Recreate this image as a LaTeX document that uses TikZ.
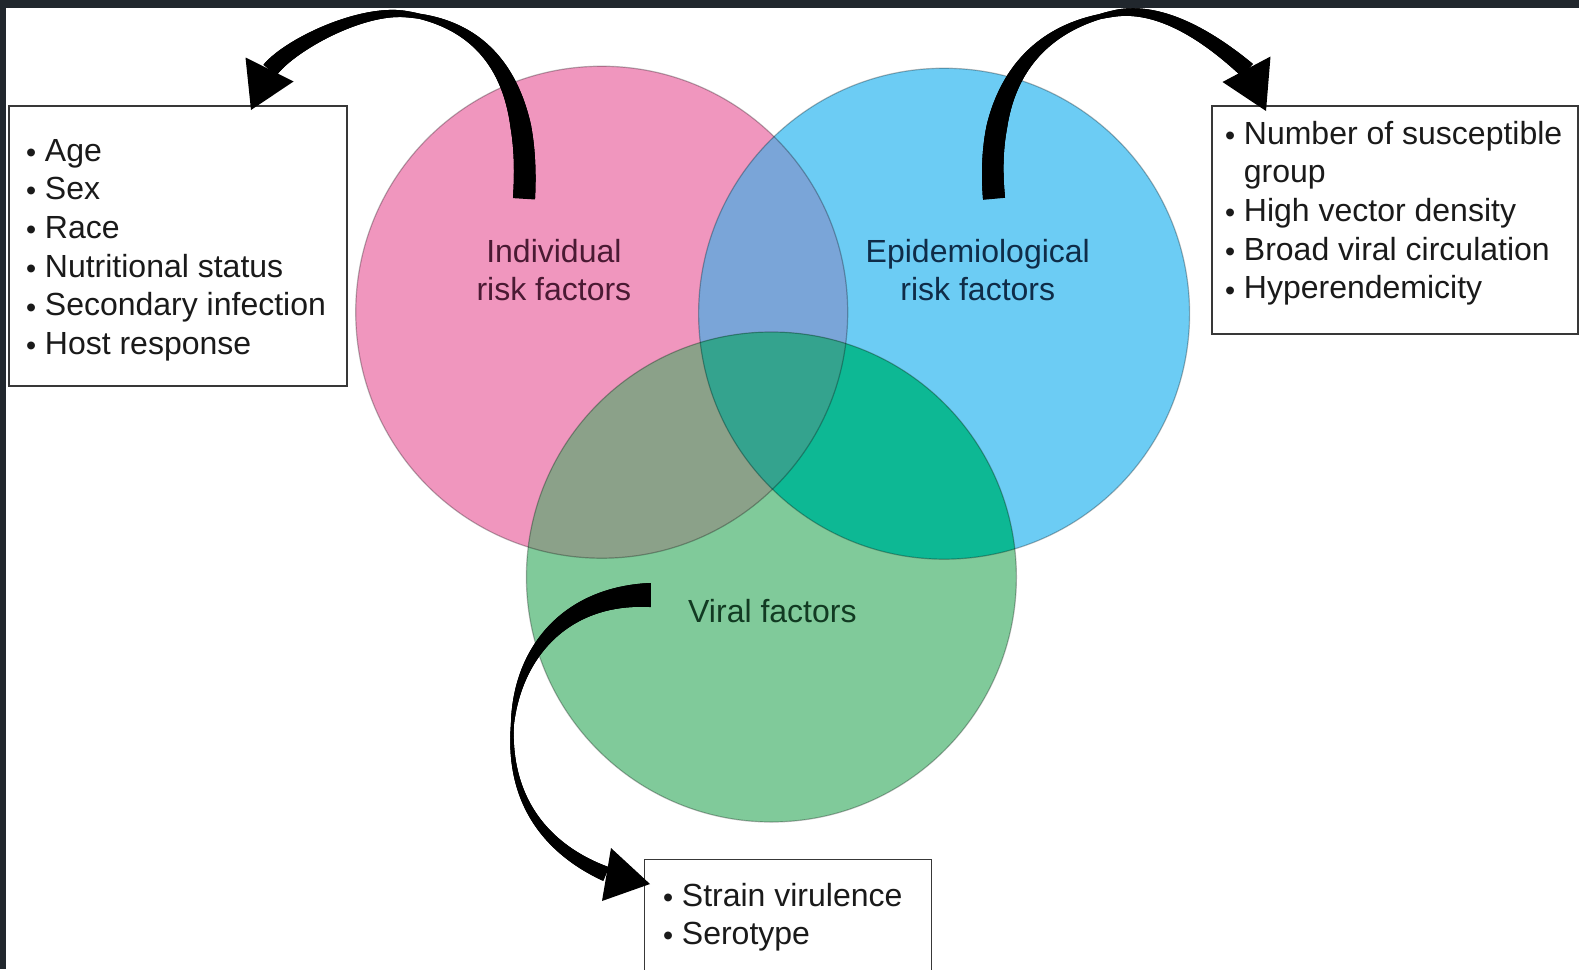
\documentclass[tikz,border=0pt]{standalone}
\usepackage{fontspec}
\setmainfont{Liberation Sans}
\usepackage{graphicx}
\usetikzlibrary{decorations.markings}
\definecolor{framec}{HTML}{21272D}
\definecolor{pinkc}{HTML}{F096BE}
\definecolor{bluec}{HTML}{6CCCF4}
\definecolor{greenc}{HTML}{80CA9A}
\definecolor{pbc}{HTML}{7AA5D8}
\definecolor{pgc}{HTML}{8BA189}
\definecolor{bgc}{HTML}{0DB894}
\definecolor{pbgc}{HTML}{34A38E}
\definecolor{pinktext}{HTML}{4A1A33}
\definecolor{bluetext}{HTML}{0F2C48}
\definecolor{greentext}{HTML}{123A22}
\definecolor{listtext}{HTML}{1A1A1A}
\newcommand\mybul{\raisebox{-0.04em}{\scalebox{0.9}{\textbullet}}\hspace{0.27em}}
\newcommand\mybulgap{\phantom{\mybul}}
\def\profA{(\tpos<0.18) ? (22-1.5*\tpos/0.18) : ((\tpos<0.58) ? (20.5-15.5*(\tpos-0.18)/0.4) : (5+12*(max((\tpos-0.58)/0.42,0.001))^0.9))}
\def\profB{(\tpos<0.52) ? (24-21*\tpos/0.52) : (3+12*(max((\tpos-0.52)/0.48,0.001))^1.3)}
\tikzset{
  taper/.style={postaction={decorate}, decoration={markings,
    mark=between positions 0 and 1 step 0.6pt with {
      \pgfmathsetmacro\tpos{\pgfkeysvalueof{/pgf/decoration/mark info/distance from start}/\pgfdecoratedpathlength}
      \pgfmathsetmacro\hw{(#1)/2}
      \pgfpathrectanglecorners{\pgfpoint{-0.8pt}{-\hw pt}}{\pgfpoint{0.8pt}{\hw pt}}
      \pgfusepath{fill}
    }}},
  venn/.style={circle, inner sep=0pt, minimum size=#1},
  outl/.style={draw=black, draw opacity=0.28, line width=1.2pt},
  listbox/.style={draw=black!78, line width=1.5pt, fill=white, anchor=north west, inner sep=0pt},
  listtxt/.style={anchor=base west, inner sep=0pt, text=listtext, font=\fontsize{32}{38.7}\selectfont},
  circlbl/.style={anchor=base, inner sep=0pt, font=\fontsize{32}{38.7}\selectfont},
  headfill/.style={fill=black}
}
\begin{document}
\begin{tikzpicture}[x=1pt,y=-1pt]
\useasboundingbox (0,0) rectangle (1579,969);
\fill[white] (0,0) rectangle (1579,969);
\fill[framec] (0,0) rectangle (1579,8);
\fill[framec] (0,0) rectangle (6,969);

% circles
\node[venn=492pt, fill=pinkc] (pink) at (601.7,312.2) {};
\node[venn=491pt, fill=bluec] (blue) at (944.1,313.7) {};
\node[venn=490pt, fill=greenc] (green) at (771.4,577) {};
\begin{scope}
  \clip (pink.center) circle[radius=246pt];
  \fill[pbc] (blue.center) circle[radius=245.5pt];
  \fill[pgc] (green.center) circle[radius=245pt];
\end{scope}
\begin{scope}
  \clip (blue.center) circle[radius=245.5pt];
  \fill[bgc] (green.center) circle[radius=245pt];
\end{scope}
\begin{scope}
  \clip (pink.center) circle[radius=246pt];
  \clip (blue.center) circle[radius=245.5pt];
  \fill[pbgc] (green.center) circle[radius=245pt];
\end{scope}
\draw[outl] (pink.center) circle[radius=246pt];
\draw[outl] (blue.center) circle[radius=245.5pt];
\draw[outl] (green.center) circle[radius=245pt];

% circle labels
\node[circlbl, text=pinktext] (indlbl) at (553.9,262) {\begin{tabular}[t]{@{}c@{}}Individual\\risk factors\end{tabular}};
\node[circlbl, text=bluetext] (epilbl) at (977.8,262) {\begin{tabular}[t]{@{}c@{}}Epidemiological\\risk factors\end{tabular}};
\node[circlbl, text=greentext] (virlbl) at (772.4,622.5) {Viral factors};

% boxes
\node[listbox, minimum width=338pt, minimum height=280pt] (leftbox) at (8,105) {};
\node[listbox, minimum width=366pt, minimum height=228pt] (rightbox) at (1211,105) {};
\node[listbox, minimum width=287pt, minimum height=140pt] (botbox) at (643.5,858.5) {};

\node[listtxt] (lefttxt) at (26,161) {\begin{tabular}[t]{@{}l@{}}\mybul Age\\\mybul Sex\\\mybul Race\\\mybul Nutritional status\\\mybul Secondary infection\\\mybul Host response\end{tabular}};
\node[listtxt] (righttxt) at (1225,144) {\begin{tabular}[t]{@{}l@{}}\mybul Number of susceptible\\\mybulgap group\\\mybul High vector density\\\mybul Broad viral circulation\\\mybul Hyperendemicity\end{tabular}};
\node[listtxt] (bottxt) at (663,906) {\begin{tabular}[t]{@{}l@{}}\mybul Strain virulence\\\mybul Serotype\end{tabular}};

% arrows
\coordinate (tlTail) at (524,198);
\coordinate (tlEnd) at (270,70);
\coordinate (tlTip) at (251,110);
\path[taper=\profA] (tlTail) .. controls (530,100) and (500,25) .. (405,14) .. controls (360,9) and (290,45) .. (tlEnd);
\fill[headfill] (245.5,57.5) -- (tlTip) -- (293.5,81.5) -- cycle;

\coordinate (trTail) at (994,198);
\coordinate (trEnd) at (1247,70);
\coordinate (trTip) at (1266,111);
\path[taper=\profA] (trTail) .. controls (986,110) and (1015,30) .. (1117,13) .. controls (1165,6) and (1215,42) .. (trEnd);
\fill[headfill] (1270.5,56.5) -- (trTip) -- (1222.5,82) -- cycle;

\coordinate (bTail) at (650,595);
\coordinate (bEnd) at (606,874);
\coordinate (bTip) at (650,884);
\path[taper=\profB] (bTail) .. controls (560,595) and (512,660) .. (512,737) .. controls (512,815) and (560,855) .. (bEnd);
\fill[headfill] (611,848) -- (bTip) -- (602,901) -- cycle;
\end{tikzpicture}
\end{document}
